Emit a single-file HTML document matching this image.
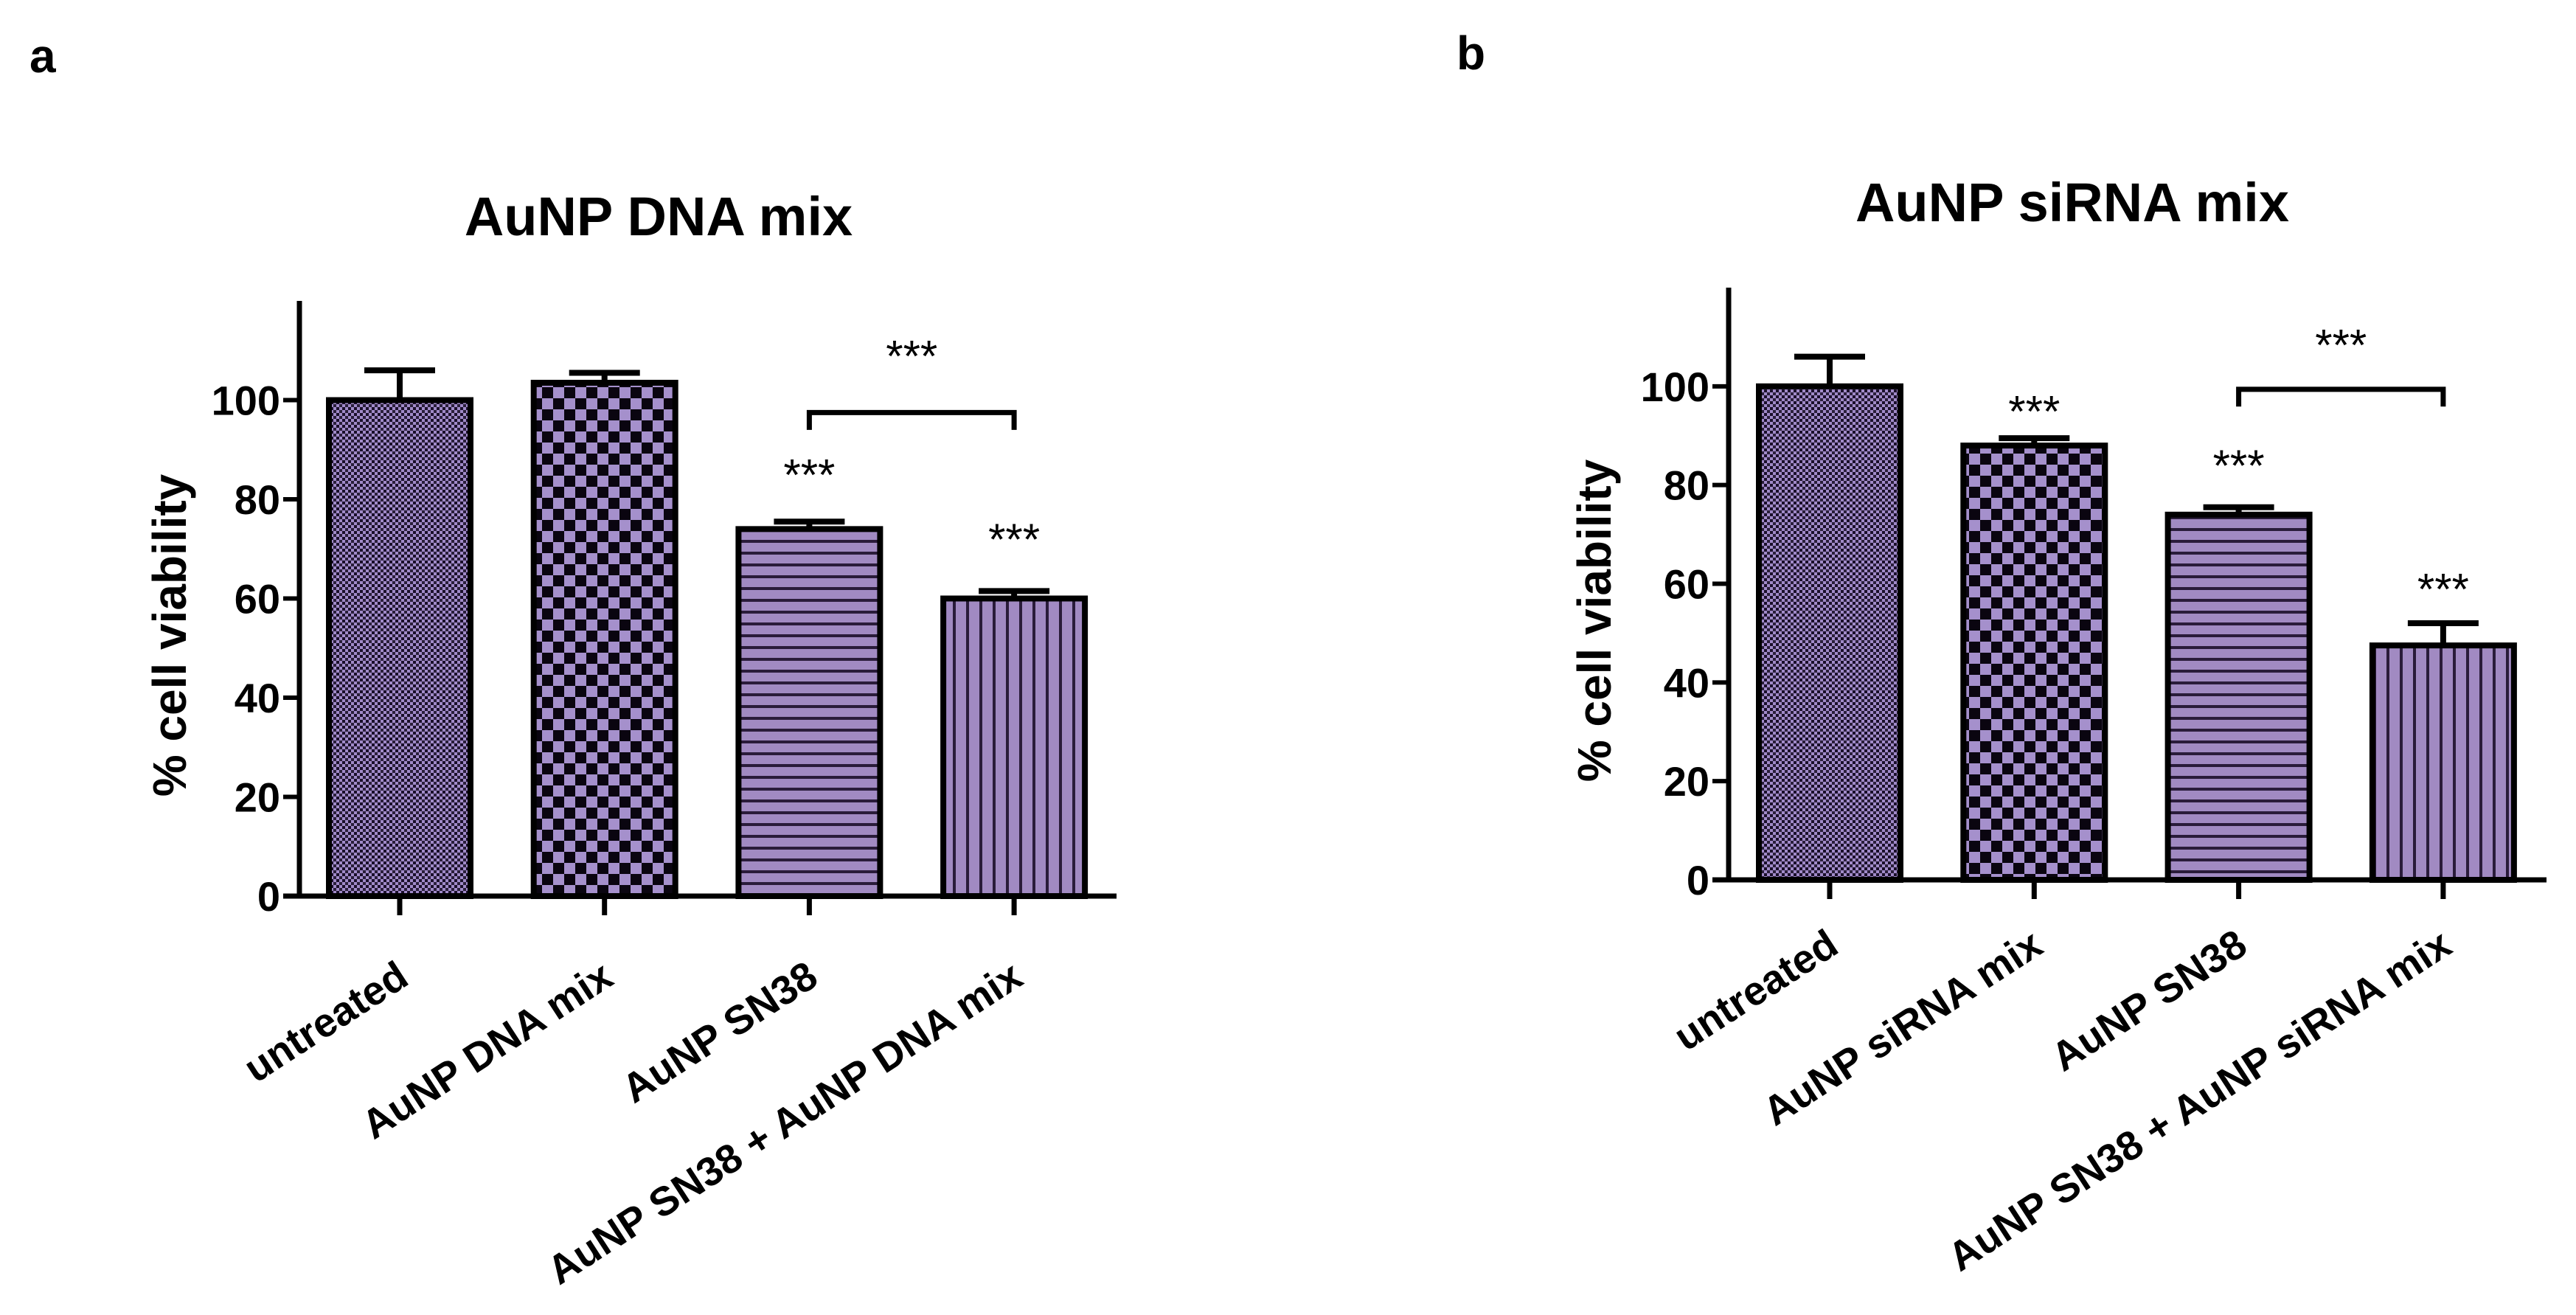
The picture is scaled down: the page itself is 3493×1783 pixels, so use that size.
<!DOCTYPE html>
<html><head><meta charset="utf-8"><style>
html,body{margin:0;padding:0;background:#fff;}
svg{display:block;}
text{font-family:"Liberation Sans Narrow","Liberation Sans",sans-serif;}
</style></head><body>
<svg id="fig" width="3493" height="1783" viewBox="0 0 3493 1783" xmlns="http://www.w3.org/2000/svg">
<defs>
<pattern id="pFine" width="8" height="8" patternUnits="userSpaceOnUse"><rect width="8" height="8" fill="#a08ac8"/><rect width="4" height="4" fill="#1a0f2a"/><rect x="4" y="4" width="4" height="4" fill="#2a1f3a"/></pattern>
<pattern id="pCoarse" width="30" height="30" patternUnits="userSpaceOnUse"><rect width="30" height="30" fill="#a590cc"/><rect width="15" height="15" fill="#0a0510"/><rect x="15" y="15" width="15" height="15" fill="#0a0510"/></pattern>
<pattern id="pHoriz" width="16" height="16" patternUnits="userSpaceOnUse"><rect width="16" height="16" fill="#a18ac2"/><rect y="12" width="16" height="4" fill="#2a1c3a"/></pattern>
<pattern id="pVert" width="18" height="18" patternUnits="userSpaceOnUse"><rect width="18" height="18" fill="#a18ac2"/><rect x="14" width="4" height="18" fill="#2a1c3a"/></pattern>
</defs>
<text x="40" y="98" font-size="64" font-weight="bold" font-family="Liberation Sans">a</text>
<text x="1975" y="94" font-size="64" font-weight="bold" font-family="Liberation Sans">b</text>
</svg>
<script>
// Panel a data
const catsA = ["untreated", "AuNP DNA mix", "AuNP SN38", "AuNP SN38 + AuNP DNA mix"];
const valsA = [100, 103.5, 74, 60];
const errA = [106, 105.5, 75.5, 61.5];
const starsA = [null, null, 86, 73];
// Panel b data
const catsB = ["untreated", "AuNP siRNA mix", "AuNP SN38", "AuNP SN38 + AuNP siRNA mix"];
const valsB = [100, 88, 74, 47.5];
const errB = [106, 89.5, 75.5, 52];
const starsB = [null, 96, 85, 60];
const yTicks = [0, 20, 40, 60, 80, 100];
const yMax = 120;
const fills = ["url(#pFine)", "url(#pCoarse)", "url(#pHoriz)", "url(#pVert)"];

const NS = "http://www.w3.org/2000/svg";
const svg = document.getElementById("fig");
function mk(tag, attrs, parent) {
  const e = document.createElementNS(NS, tag);
  for (const k in attrs) e.setAttribute(k, attrs[k]);
  (parent || svg).appendChild(e);
  return e;
}

function panel(cfg) {
  const g = mk("g", {});
  
  
  const y = v => cfg.y0 - (v / yMax) * (cfg.y0 - cfg.yTop);
  const x = i => cfg.x1 + i * cfg.step;
  const t = mk("text", {x: cfg.titleX, y: cfg.titleY, "font-size": 74, "font-weight": "bold", "text-anchor": "middle"}, g);
  t.textContent = cfg.title;
  
  
  cfg.vals.forEach((v, i) => {
    const cx = x(i);
    const e = cfg.err[i];
    const eb = mk("path", {d: `M${cx} ${y(v)}V${y(e)}M${cx - 48} ${y(e)}H${cx + 48}`, stroke: "#000", "stroke-width": 8, fill: "none"}, g);
    
    
    const r = mk("rect", {x: cx - 96, y: y(v), width: 192, height: cfg.y0 - y(v), fill: fills[i], stroke: "#000", "stroke-width": 8}, g);
    
    
    if (cfg.stars[i] !== null) {
      const s = mk("text", {x: cx, y: y(cfg.stars[i]) + 28, "font-size": 60, "text-anchor": "middle"}, g);
      s.textContent = "***";
      
      
    }
    const tk = mk("line", {x1: cx, x2: cx, y1: cfg.y0, y2: cfg.y0 + 26, stroke: "#000", "stroke-width": 7}, g);
    
    
    const lx = cx + 15, ly = cfg.y0 + cfg.labOff;
    const lb = mk("text", {x: lx, y: ly, "font-size": 55, "font-weight": "bold", "font-family": "Liberation Sans", "text-anchor": "end", transform: `rotate(-33 ${lx} ${ly})`}, g);
    lb.textContent = cfg.cats[i];
    
    
  });
  const by = y(cfg.brY), bt = y(cfg.brY - 3.5);
  const br = mk("path", {d: `M${x(2)} ${bt}V${by}H${x(3)}V${bt}`, stroke: "#000", "stroke-width": 7, fill: "none"}, g);
  
  
  const bs = mk("text", {x: (x(2) + x(3)) / 2, y: y(cfg.brStar) + 28, "font-size": 60, "text-anchor": "middle"}, g);
  bs.textContent = "***";
  
  
  const ya = mk("line", {x1: cfg.ax, x2: cfg.ax, y1: y(yMax), y2: cfg.y0 + 3, stroke: "#000", "stroke-width": 7}, g);
  
  
  const xa = mk("line", {x1: cfg.ax - 22, x2: cfg.axEnd, y1: cfg.y0, y2: cfg.y0, stroke: "#000", "stroke-width": 7}, g);
  
  
  yTicks.forEach(v => {
    const tl = mk("line", {x1: cfg.ax - 22, x2: cfg.ax, y1: y(v), y2: y(v), stroke: "#000", "stroke-width": 6}, g);
    
    
    const tx = mk("text", {x: cfg.ax - 26, y: y(v) + 20, "font-size": 56, "font-weight": "bold", "text-anchor": "end"}, g);
    tx.textContent = v;
    
    
  });
  const cy = (y(0) + y(yMax)) / 2 + 50;
  const yl = mk("text", {x: cfg.ylX, y: cy, "font-size": 64, "font-weight": "bold", "font-family": "Liberation Sans", "text-anchor": "middle", transform: `rotate(-90 ${cfg.ylX} ${cy})`}, g);
  yl.textContent = "% cell viability";
  
  
}

panel({id: "panel-a", title: "AuNP DNA mix", titleX: 893, titleY: 319, cats: catsA, vals: valsA, err: errA, stars: starsA,
  y0: 1215, yTop: 408, x1: 542, step: 277.7, ax: 406, axEnd: 1514, labOff: 118, brY: 97.5, brStar: 110, ylX: 252});
panel({id: "panel-b", title: "AuNP siRNA mix", titleX: 2810, titleY: 300, cats: catsB, vals: valsB, err: errB, stars: starsB,
  y0: 1193, yTop: 390, x1: 2481, step: 277.3, ax: 2344, axEnd: 3453, labOff: 97, brY: 99.4, brStar: 109.5, ylX: 2184});
</script>
</body></html>
